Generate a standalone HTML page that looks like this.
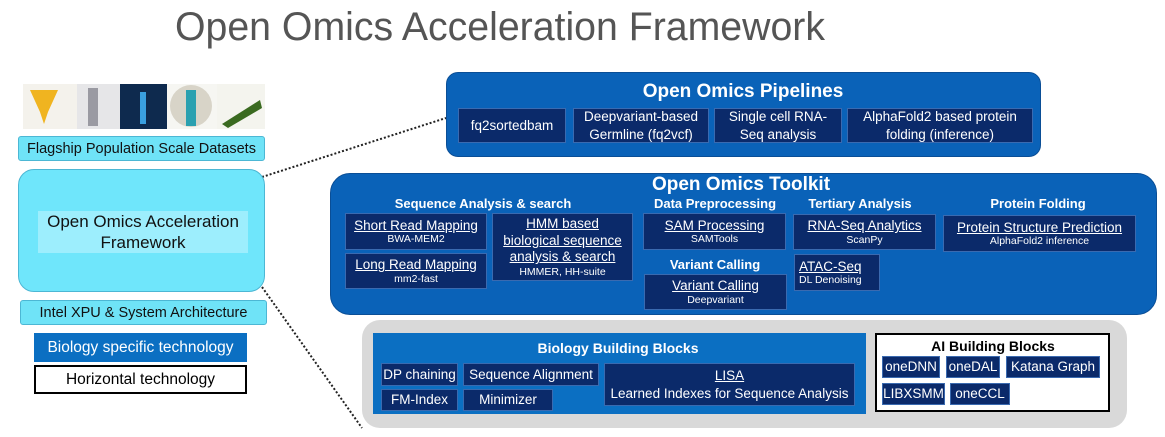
<!DOCTYPE html>
<html><head><meta charset="utf-8"><style>
*{margin:0;padding:0;box-sizing:border-box}
body{width:1165px;height:437px;background:#fff;position:relative;overflow:hidden;font-family:"Liberation Sans",sans-serif}
.a{position:absolute}
.nv{position:absolute;background:#0b2a6a;border:1px solid #3a6ab0;color:#fff;display:flex;flex-direction:column;align-items:center;justify-content:center;text-align:center;line-height:1.15}
.t{font-size:13.5px;text-decoration:underline}
.s{font-size:10.5px}
.p{font-size:13.5px;line-height:1.3}
.h{position:absolute;color:#fff;font-weight:bold;font-size:13px;transform:translateX(-50%);white-space:nowrap}
.cy{position:absolute;background:#6fe3f7;border:1px solid #4cb7d4;display:flex;align-items:center;justify-content:center;color:#111;font-size:14.5px}
</style></head><body>
<svg class="a" style="left:0;top:0" width="1165" height="437">
<text x="175" y="40" font-family="Liberation Sans" font-size="40" fill="#555" textLength="650" lengthAdjust="spacingAndGlyphs">Open Omics Acceleration Framework</text>
<line x1="262" y1="177" x2="446" y2="118" stroke="#222" stroke-width="2" stroke-dasharray="2,2"/>
<line x1="262" y1="287" x2="362" y2="428" stroke="#222" stroke-width="2" stroke-dasharray="2,2"/>
<rect x="23" y="84" width="54" height="45" fill="#f4f2ec"/>
<polygon points="30,90 58,90 48,112 44,124 40,112" fill="#f0b420"/>
<rect x="77" y="84" width="43" height="45" fill="#e6e6e8"/>
<rect x="88" y="88" width="10" height="38" fill="#9a9aa2"/>
<rect x="120" y="84" width="47" height="45" fill="#0e2a4e"/>
<rect x="140" y="92" width="6" height="32" fill="#3aa0e0"/>
<rect x="167" y="84" width="50" height="45" fill="#f6f6f2"/>
<circle cx="191" cy="106" r="21" fill="#d8d4c8"/>
<rect x="186" y="90" width="10" height="36" fill="#2aa0b0"/>
<rect x="217" y="84" width="48" height="45" fill="#f4f4ee"/>
<polygon points="222,124 260,100 262,108 228,128" fill="#3a6a20"/>
</svg>
<div class="cy" style="left:18px;top:136px;width:247px;height:25px;border-radius:3px">Flagship Population Scale Datasets</div>
<div class="a" style="left:18px;top:169px;width:247px;height:123px;background:#6fe6fb;border:1px solid #4cb7d4;border-radius:16px"></div>
<div class="a" style="left:38px;top:211px;width:210px;height:42px;background:#9deefd;color:#111;font-size:17px;text-align:center;line-height:21px">Open Omics Acceleration Framework</div>
<div class="cy" style="left:20px;top:300px;width:247px;height:25px;border-radius:3px">Intel XPU &amp; System Architecture</div>
<div class="a" style="left:34px;top:333px;width:213px;height:29px;background:#0b6fc2;color:#fff;font-size:15.5px;display:flex;align-items:center;justify-content:center">Biology specific technology</div>
<div class="a" style="left:34px;top:365px;width:213px;height:29px;background:#fff;border:2px solid #000;color:#000;font-size:15.5px;display:flex;align-items:center;justify-content:center">Horizontal technology</div>

<div class="a" style="left:446px;top:72px;width:595px;height:85px;background:#0a62b8;border:1px solid #0a4e96;border-radius:12px"></div>
<div class="h" style="left:743px;top:81px;font-size:19px">Open Omics Pipelines</div>
<div class="nv p" style="left:458px;top:108px;width:108px;height:35px">fq2sortedbam</div>
<div class="nv p" style="left:573px;top:108px;width:136px;height:35px">Deepvariant-based<br>Germline (fq2vcf)</div>
<div class="nv p" style="left:714px;top:108px;width:128px;height:35px">Single cell RNA-<br>Seq analysis</div>
<div class="nv p" style="left:847px;top:108px;width:186px;height:35px">AlphaFold2 based protein<br>folding (inference)</div>

<div class="a" style="left:330px;top:173px;width:827px;height:142px;background:#0a62b8;border:1px solid #0a4e96;border-radius:20px"></div>
<div class="h" style="left:741px;top:174px;font-size:19px">Open Omics Toolkit</div>
<div class="h" style="left:483px;top:196px">Sequence Analysis &amp; search</div>
<div class="h" style="left:715px;top:196px">Data Preprocessing</div>
<div class="h" style="left:860px;top:196px">Tertiary Analysis</div>
<div class="h" style="left:1038px;top:196px">Protein Folding</div>
<div class="h" style="left:715px;top:257px">Variant Calling</div>
<div class="nv" style="left:345px;top:213px;width:142px;height:37px"><span class="t">Short Read Mapping</span><span class="s">BWA-MEM2</span></div>
<div class="nv" style="left:345px;top:253px;width:142px;height:36px"><span class="t">Long Read Mapping</span><span class="s">mm2-fast</span></div>
<div class="nv" style="left:492px;top:213px;width:141px;height:68px"><span class="t" style="line-height:1.25">HMM based<br>biological sequence<br>analysis &amp; search</span><span class="s">HMMER, HH-suite</span></div>
<div class="nv" style="left:643px;top:213px;width:143px;height:37px"><span class="t">SAM Processing</span><span class="s">SAMTools</span></div>
<div class="nv" style="left:644px;top:274px;width:143px;height:36px"><span class="t">Variant Calling</span><span class="s">Deepvariant</span></div>
<div class="nv" style="left:793px;top:214px;width:143px;height:36px"><span class="t">RNA-Seq Analytics</span><span class="s">ScanPy</span></div>
<div class="nv" style="left:794px;top:254px;width:86px;height:37px;align-items:flex-start;padding-left:4px"><span class="t">ATAC-Seq</span><span class="s">DL Denoising</span></div>
<div class="nv" style="left:943px;top:215px;width:193px;height:37px"><span class="t">Protein Structure Prediction</span><span class="s">AlphaFold2 inference</span></div>

<div class="a" style="left:362px;top:320px;width:765px;height:108px;background:#d9d9d9;border-radius:18px"></div>
<div class="a" style="left:373px;top:333px;width:493px;height:81px;background:#0b6fc2"></div>
<div class="h" style="left:618px;top:340px;font-size:14px">Biology Building Blocks</div>
<div class="nv p" style="left:381px;top:363px;width:77px;height:23px">DP chaining</div>
<div class="nv p" style="left:463px;top:363px;width:136px;height:23px">Sequence Alignment</div>
<div class="nv p" style="left:381px;top:389px;width:77px;height:22px">FM-Index</div>
<div class="nv p" style="left:463px;top:389px;width:90px;height:22px">Minimizer</div>
<div class="nv p" style="left:604px;top:363px;width:251px;height:43px"><span style="text-decoration:underline">LISA</span><span>Learned Indexes for Sequence Analysis</span></div>
<div class="a" style="left:875px;top:333px;width:235px;height:79px;background:#fff;border:2px solid #000"></div>
<div class="a" style="left:993px;top:338px;transform:translateX(-50%);font-weight:bold;font-size:14px;color:#000;white-space:nowrap">AI Building Blocks</div>
<div class="nv p" style="left:882px;top:356px;width:58px;height:22px">oneDNN</div>
<div class="nv p" style="left:946px;top:356px;width:54px;height:22px">oneDAL</div>
<div class="nv p" style="left:1006px;top:356px;width:94px;height:22px">Katana Graph</div>
<div class="nv p" style="left:882px;top:383px;width:63px;height:22px">LIBXSMM</div>
<div class="nv p" style="left:950px;top:383px;width:60px;height:22px">oneCCL</div>
</body></html>
